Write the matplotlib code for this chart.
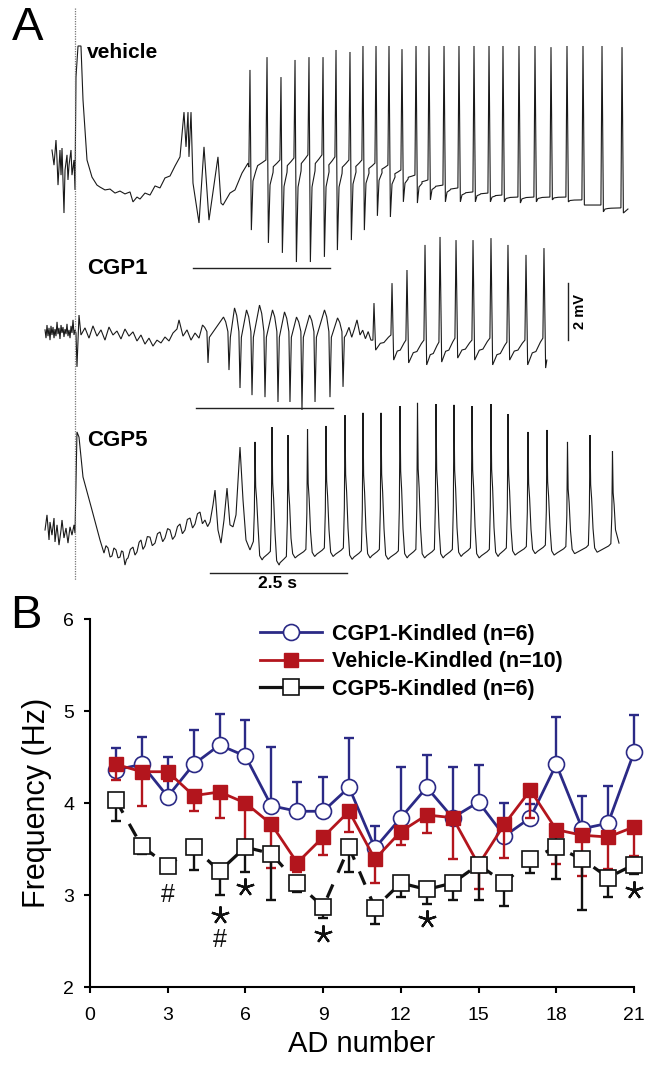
import matplotlib
matplotlib.use("Agg")
import matplotlib.pyplot as plt
from matplotlib.lines import Line2D

plt.rcParams['font.family'] = ['Liberation Sans', 'DejaVu Sans']

# ------------------------------------------------------------------
# Panel B data
# ------------------------------------------------------------------
ad_number = list(range(1, 22))
cgp1_mean = [4.36, 4.42, 4.07, 4.42, 4.63, 4.51, 3.97, 3.91, 3.91, 4.17, 3.51,
             3.84, 4.17, 3.84, 4.01, 3.64, 3.84, 4.42, 3.72, 3.78, 4.55]
cgp1_sem = [0.24, 0.30, 0.43, 0.37, 0.34, 0.39, 0.64, 0.32, 0.37, 0.54, 0.24,
            0.55, 0.35, 0.55, 0.40, 0.36, 0.15, 0.52, 0.36, 0.41, 0.41]
veh_mean = [4.42, 4.34, 4.34, 4.08, 4.12, 4.00, 3.77, 3.35, 3.63, 3.91, 3.39,
            3.69, 3.87, 3.84, 3.33, 3.77, 4.14, 3.71, 3.65, 3.63, 3.74]
veh_sem = [0.17, 0.37, 0.10, 0.17, 0.28, 0.50, 0.48, 0.10, 0.20, 0.22, 0.26,
           0.15, 0.20, 0.45, 0.27, 0.37, 0.30, 0.37, 0.44, 0.35, 0.32]
cgp5_mean = [4.03, 3.53, 3.32, 3.52, 3.26, 3.52, 3.45, 3.13, 2.87, 3.52, 2.86,
             3.13, 3.06, 3.13, 3.33, 3.13, 3.39, 3.52, 3.39, 3.19, 3.33]
cgp5_sem = [0.23, 0.08, 0.07, 0.25, 0.26, 0.27, 0.50, 0.10, 0.12, 0.27, 0.18,
            0.15, 0.16, 0.18, 0.38, 0.25, 0.15, 0.35, 0.55, 0.21, 0.10]
legend_labels = ["CGP1-Kindled (n=6)", "Vehicle-Kindled (n=10)", "CGP5-Kindled (n=6)"]
x_ticks = [0, 3, 6, 9, 12, 15, 18, 21]
y_ticks = [2, 3, 4, 5, 6]
star_x = [5, 6, 9, 13, 21]
star_y = [2.78, 3.09, 2.58, 2.74, 3.05]
hash_x = [3, 5]
hash_y = [3.00, 2.51]

# ------------------------------------------------------------------
# Panel A data (time in s from stimulus, voltage in mV rel. to baseline)
# ------------------------------------------------------------------
veh_pre_t = [-0.420, -0.383, -0.347, -0.328, -0.310, -0.274, -0.255, -0.237, -0.201,
             -0.182, -0.146, -0.128, -0.109, -0.073, -0.055, -0.018, 0.0]
veh_pre_v = [0.35, -0.18, 0.70, 0.0, -0.88, 0.35, -0.53, 0.42, -1.86, -0.35, 0.18,
             -0.70, -0.18, 0.35, -0.53, 0.0, -1.05]
veh_post_t = [0.018, 0.055, 0.109, 0.146, 0.219, 0.310, 0.401, 0.456, 0.547, 0.639,
              0.730, 0.821, 0.912, 1.004, 1.058, 1.131, 1.186, 1.277, 1.369, 1.460,
              1.551, 1.642, 1.734, 1.825, 1.916, 1.989, 2.026, 2.062, 2.080, 2.117,
              2.153, 2.263, 2.354, 2.445, 2.609, 2.664, 2.701, 2.828, 2.920, 3.047, 3.157]
veh_post_v = [2.91, 4.0, 4.0, 2.11, 0.0, -0.60, -0.88, -0.95, -1.05, -1.02,
              -1.16, -1.09, -1.19, -1.12, -1.47, -1.30, -1.37, -1.16, -1.23, -0.91,
              -0.98, -0.63, -0.56, -0.21, 0.11, 1.68, 0.46, 1.68, 0.11, 1.68,
              -0.81, -2.21, 0.46, -2.11, 0.11, -1.51, -1.58, -1.16, -1.05, -0.46, -0.11]
veh_spk_t = [3.193, 3.504, 3.759, 4.015, 4.270, 4.526, 4.763, 5.018, 5.255, 5.493,
             5.730, 5.967, 6.223, 6.460, 6.734, 7.007, 7.281, 7.555, 7.810, 8.102,
             8.394, 8.686, 8.978, 9.270, 9.617, 9.982]
veh_spk_top = [3.16, 3.61, 2.91, 3.51, 3.61, 3.61, 3.86, 3.79, 4.0, 4.0, 4.0, 3.89, 4.0,
               4.0, 4.0, 4.0, 4.0, 4.0, 4.0, 4.0, 4.0, 3.96, 4.0, 4.0, 4.0, 3.96]
veh_spk_trough = [-2.46, -2.91, -3.26, -3.58, -3.58, -3.40, -3.16, -2.81, -2.46, -1.96,
                  -2.0, -1.47, -1.51, -1.40, -1.47, -1.47, -1.47, -1.47, -1.47, -1.51,
                  -1.47, -1.40, -1.47, -1.58, -1.82, -1.86]
veh_spk_base = [-0.25, 0.0, 0.0, 0.07, 0.18, 0.18, 0.11, 0.0, 0.0, -0.11, -0.18, -0.35,
                -0.53, -0.70, -0.88, -0.98, -1.12, -1.16, -1.23, -1.30, -1.30, -1.30,
                -1.30, -1.40, -1.58, -1.68]
veh_end = (10.09, -1.72)

cgp1_pre_t = [-0.547, -0.529, -0.511, -0.493, -0.474, -0.456, -0.438, -0.420, -0.401,
              -0.383, -0.365, -0.347, -0.328, -0.310, -0.292, -0.274, -0.255, -0.237,
              -0.219, -0.201, -0.182, -0.164, -0.146, -0.128, -0.109, -0.091, -0.073,
              -0.055, -0.036, -0.018, 0.0]
cgp1_pre_v = [0.11, -0.18, 0.28, -0.11, 0.18, -0.25, 0.25, -0.07, 0.21, -0.18, 0.14,
              -0.11, 0.39, -0.04, 0.18, -0.21, 0.28, 0.0, 0.21, -0.14, 0.14, -0.04,
              0.32, -0.11, 0.11, -0.18, 0.25, 0.0, 0.46, -0.07, 0.11]
cgp1_post_t = [0.018, 0.036, 0.073, 0.109, 0.182, 0.255, 0.328, 0.401, 0.474, 0.547,
               0.620, 0.693, 0.766, 0.839, 0.912, 0.985, 1.058, 1.131, 1.204, 1.277,
               1.350, 1.423, 1.496, 1.569, 1.642, 1.715, 1.788, 1.861, 1.898, 1.971,
               2.044, 2.117, 2.190, 2.263]
cgp1_post_v = [0.0, -1.19, 0.63, -0.07, 0.18, -0.18, 0.25, -0.11, 0.11, -0.25,
               0.21, -0.07, 0.07, -0.21, 0.14, -0.11, 0.04, -0.28, -0.07, -0.39,
               -0.18, -0.46, -0.25, -0.35, -0.14, -0.28, 0.0, 0.14, 0.46, -0.11,
               0.11, -0.25, 0.0, -0.18]
cgp1_dn_t = [2.427, 2.810, 3.011, 3.230, 3.467, 3.704, 3.923, 4.142, 4.380, 4.653, 4.891]
cgp1_dn_bump = [0.28, 0.56, 0.88, 0.81, 0.98, 0.81, 0.74, 0.56, 0.63, 0.81, 0.53]
cgp1_dn_trough = [-1.05, -1.30, -1.93, -2.18, -2.25, -2.42, -2.42, -2.70, -2.42, -2.25, -1.89]
cgp1_mid_t = [4.945, 5.0, 5.05, 5.10, 5.146, 5.201, 5.25, 5.30, 5.35, 5.40]
cgp1_mid_v = [-0.07, 0.20, -0.15, 0.15, 0.46, -0.07, 0.10, -0.20, 0.05, -0.25]
cgp1_up_t = [5.456, 5.785, 6.058, 6.387, 6.661, 6.953, 7.263, 7.591, 7.901, 8.230, 8.558]
cgp1_up_top = [1.05, 1.75, 2.21, 3.09, 3.37, 3.26, 3.26, 3.33, 3.09, 2.74, 2.98]
cgp1_up_trough = [-0.60, -0.95, -1.05, -1.12, -1.02, -0.88, -0.95, -1.12, -0.95, -1.12, -1.23]
cgp1_up_base = [-0.25, -0.07, -0.25, -0.25, -0.32, -0.18, -0.25, -0.18, -0.32, -0.25, -0.18]
cgp1_end = (8.61, -0.95)

cgp5_pre_t = [-0.547, -0.511, -0.474, -0.456, -0.420, -0.383, -0.365, -0.328, -0.292,
              -0.255, -0.237, -0.201, -0.164, -0.128, -0.091, -0.055, -0.018, 0.0]
cgp5_pre_v = [-0.07, 0.46, -0.42, 0.21, -0.25, 0.35, -0.49, 0.11, -0.60, -0.07, 0.28,
              -0.35, 0.0, -0.53, 0.04, -0.25, 0.11, -0.18]
cgp5_post_t = [0.036, 0.073, 0.146, 0.310, 0.456, 0.529, 0.565, 0.602, 0.640, 0.675,
               0.710, 0.748, 0.785, 0.821, 0.850, 0.876, 0.912, 0.940, 0.967, 1.010,
               1.058, 1.095, 1.131, 1.170, 1.204, 1.240, 1.277, 1.320, 1.369, 1.410,
               1.460, 1.505, 1.551, 1.600, 1.642, 1.690, 1.734, 1.780, 1.825, 1.870,
               1.916, 1.960, 2.007, 2.050, 2.099, 2.145, 2.190, 2.235, 2.281, 2.325,
               2.372, 2.420, 2.464, 2.518, 2.555, 2.609, 2.664, 2.719, 2.774, 2.828,
               2.883, 2.938, 3.011, 3.066, 3.120, 3.193]
cgp5_post_v = [3.37, 3.19, 1.79, 0.63, -0.42, -0.88, -0.62, -0.70, -1.02, -0.98,
               -0.70, -0.77, -1.05, -1.02, -0.80, -0.84, -1.30, -1.10, -1.05, -0.75,
               -0.67, -0.95, -0.84, -0.50, -0.42, -0.75, -0.63, -0.30, -0.32, -0.62,
               -0.53, -0.20, -0.14, -0.48, -0.35, -0.02, -0.07, -0.40, -0.28, 0.05,
               0.14, -0.20, -0.07, 0.30, 0.35, 0.00, 0.14, 0.50, 0.56, 0.15,
               0.28, 0.05, 0.21, 0.81, 1.33, -0.07, -0.53, 0.28, 1.40, 0.11,
               0.04, 0.46, 2.84, 0.98, -0.42, -0.77]
cgp5_spk_t = [3.285, 3.595, 3.887, 4.243, 4.580, 4.927, 5.255, 5.584, 5.931, 6.250,
              6.588, 6.916, 7.245, 7.591, 7.901, 8.266, 8.613, 8.987, 9.398, 9.808]
cgp5_spk_top = [3.02, 3.54, 3.26, 3.47, 3.58, 3.96, 4.04, 4.04, 4.28, 4.39, 4.35, 4.32,
                4.28, 4.35, 4.00, 3.37, 3.44, 3.02, 3.26, 2.70]
cgp5_spk_trough = [-1.12, -1.30, -1.05, -1.0, -1.0, -1.1, -1.05, -1.1, -1.05, -1.05,
                   -1.05, -1.0, -1.05, -1.0, -0.95, -0.9, -0.95, -0.9, -0.85, -0.85]
cgp5_end = (9.927, -0.53)

trace_labels = ["vehicle", "CGP1", "CGP5"]
time_bar_s = 2.5
volt_bar_mv = 2.0

# ------------------------------------------------------------------
# layout helpers (pixel geometry of the 648 x 1071 figure)
# ------------------------------------------------------------------
W, H = 648, 1071
PX_PER_S = 54.8
PX_PER_MV = 28.5
STIM_X = 75


def fx(x):
    return x / W


def fy(y):
    return 1 - y / H


def mv_of_px(y):
    return -y / PX_PER_MV


def s_of_px(x):
    return (x - STIM_X) / PX_PER_S


# ------------------------------------------------------------------
# waveform assembly
# ------------------------------------------------------------------
def vehicle_trace():
    t = list(veh_pre_t) + list(veh_post_t)
    v = list(veh_pre_v) + list(veh_post_v)
    n = len(veh_spk_t)
    for i in range(n):
        ts, b, top, tr = veh_spk_t[i], veh_spk_base[i], veh_spk_top[i], veh_spk_trough[i]
        bn = veh_spk_base[i + 1] if i + 1 < n else veh_end[1]
        t += [ts - 0.02, ts, ts + 0.025]
        v += [b, top, tr]
        if i + 1 < n:
            gap = veh_spk_t[i + 1] - ts
            t += [ts + 0.055, ts + 0.11, ts + 0.45 * gap, ts + 0.7 * gap]
            v += [tr + 0.7 * (bn - tr), tr + 0.85 * (bn - tr),
                  tr + 0.92 * (bn - tr), tr + 0.96 * (bn - tr)]
    t.append(veh_end[0])
    v.append(veh_end[1])
    return t, v


def cgp1_trace():
    t = list(cgp1_pre_t) + list(cgp1_post_t)
    v = list(cgp1_pre_v) + list(cgp1_post_v)
    for ts, bump, tr in zip(cgp1_dn_t, cgp1_dn_bump, cgp1_dn_trough):
        t += [ts - 0.10, ts - 0.06, ts - 0.02, ts, ts + 0.025]
        v += [bump, bump * 0.7, 0.05, tr, -0.15]
    t += cgp1_mid_t
    v += cgp1_mid_v
    n = len(cgp1_up_t)
    for i in range(n):
        ts = cgp1_up_t[i]
        t += [ts - 0.02, ts, ts + 0.03]
        v += [cgp1_up_base[i], cgp1_up_top[i], cgp1_up_trough[i]]
        if i + 1 < n:
            gap = cgp1_up_t[i + 1] - ts
            bn = cgp1_up_base[i + 1]
            tr = cgp1_up_trough[i]
            t += [ts + 0.35 * gap, ts + 0.55 * gap, ts + 0.8 * gap]
            v += [tr + 0.45 * (bn - tr), tr + 0.5 * (bn - tr), tr + 0.85 * (bn - tr)]
    t.append(cgp1_end[0])
    v.append(cgp1_end[1])
    return t, v


def cgp5_trace():
    t = list(cgp5_pre_t) + list(cgp5_post_t)
    v = list(cgp5_pre_v) + list(cgp5_post_v)
    n = len(cgp5_spk_t)
    prev_tr = cgp5_post_v[-1]
    for i in range(n):
        ts, top, tr = cgp5_spk_t[i], cgp5_spk_top[i], cgp5_spk_trough[i]
        b = prev_tr + 0.3
        h = top - b
        t += [ts - 0.03, ts - 0.012, ts, ts + 0.012, ts + 0.03, ts + 0.055]
        v += [b, b + 0.3 * h, top, b + 0.55 * h, b + 0.42 * h, b + 0.15 * h]
        if i + 1 < n:
            gap = cgp5_spk_t[i + 1] - ts
            t += [ts + 0.085, ts + 0.13, ts + 0.5 * gap, ts + gap - 0.07]
            v += [tr + 0.15, tr, tr + 0.08, tr + 0.22]
        prev_tr = tr
    t.append(cgp5_end[0])
    v.append(cgp5_end[1])
    return t, v


# ------------------------------------------------------------------
fig = plt.figure(figsize=(W / 100, H / 100), dpi=100)

# ---------------- Panel A ----------------
axA = fig.add_axes([0, 0, 1, 1])
axA.set_xlim(s_of_px(0), s_of_px(W))
axA.set_ylim(mv_of_px(H), 0)
axA.axis('off')

trace_offsets = [mv_of_px(160), mv_of_px(333), mv_of_px(528)]
trace_color = '#1a1a1a'
for (tt, vv), off in zip([vehicle_trace(), cgp1_trace(), cgp5_trace()], trace_offsets):
    axA.plot(tt, [x + off for x in vv], color=trace_color, lw=0.8, solid_joinstyle='miter')

# stimulus marker (dotted)
axA.plot([0, 0], [mv_of_px(8), mv_of_px(580)], color='#777777', lw=0.9, ls=(0, (1, 1)))

# time bars
for x0, y0 in [(193, 268), (196, 408), (210, 573)]:
    axA.plot([s_of_px(x0), s_of_px(x0) + time_bar_s], [mv_of_px(y0)] * 2,
             color='#222222', lw=1.0)
# voltage bar
axA.plot([s_of_px(568)] * 2, [mv_of_px(283), mv_of_px(283) - volt_bar_mv], color='#222222', lw=1.0)

fig.text(fx(12), fy(28), "A", fontsize=34, ha='left', va='center')
fig.text(fx(87), fy(53), trace_labels[0], fontsize=15, fontweight='bold', ha='left', va='center')
fig.text(fx(87), fy(268), trace_labels[1], fontsize=16, fontweight='bold', ha='left', va='center')
fig.text(fx(87), fy(440), trace_labels[2], fontsize=16, fontweight='bold', ha='left', va='center')
fig.text(fx(580), fy(311), "2 mV", fontsize=10.5, fontweight='bold', rotation=90,
         ha='center', va='center')
fig.text(fx(278), fy(584), "2.5 s", fontsize=12.5, fontweight='bold', ha='center', va='center')

# ---------------- Panel B ----------------
axB = fig.add_axes([fx(90), fy(987), (634 - 90) / W, (987 - 619) / H])
axB.set_facecolor('none')
blue = '#2B2A86'
red = '#B3151D'
black = '#111111'
zero = [0] * len(ad_number)

axB.errorbar(ad_number, cgp1_mean, yerr=[zero, cgp1_sem], fmt='none', ecolor=blue,
             elinewidth=1.7, capsize=3.5, capthick=1.7, zorder=2, clip_on=False)
axB.plot(ad_number, cgp1_mean, color=blue, lw=2.0, marker='o', ms=11.5,
         mfc='white', mec=blue, mew=1.2, zorder=3, clip_on=False)

axB.errorbar(ad_number, veh_mean, yerr=[veh_sem, zero], fmt='none', ecolor=red,
             elinewidth=1.7, capsize=3.5, capthick=1.7, zorder=4, clip_on=False)
axB.plot(ad_number, veh_mean, color=red, lw=2.0, marker='s', ms=10.5,
         mfc=red, mec=red, mew=1.0, zorder=5, clip_on=False)

axB.errorbar(ad_number, cgp5_mean, yerr=[cgp5_sem, zero], fmt='none', ecolor=black,
             elinewidth=1.7, capsize=3.5, capthick=1.7, zorder=6, clip_on=False)
axB.plot(ad_number, cgp5_mean, color=black, lw=2.3, ls=(0, (4.5, 4)), marker='s', ms=11,
         mfc='white', mec=black, mew=1.2, zorder=7, clip_on=False)

axB.plot(star_x, star_y, ls='none', marker=(5, 2, 0), ms=13, mew=1.6, color=black,
         zorder=8, clip_on=False)
for hx, hy in zip(hash_x, hash_y):
    axB.text(hx, hy, "#", fontsize=18, ha='center', va='center', color=black, zorder=8)

axB.set_xlim(0, 21)
axB.set_ylim(2, 6)
axB.set_xticks(x_ticks)
axB.set_yticks(y_ticks)
for s in ['top', 'right']:
    axB.spines[s].set_visible(False)
for s in ['left', 'bottom']:
    axB.spines[s].set_linewidth(1.5)
axB.tick_params(axis='both', direction='out', length=4.5, width=1.5, labelsize=14)
axB.tick_params(axis='x', pad=10)
axB.tick_params(axis='y', pad=7)
axB.set_xlabel("AD number", fontsize=21, labelpad=4)
axB.set_ylabel("Frequency (Hz)", fontsize=22, labelpad=8)

handles = [
    Line2D([], [], color=blue, lw=2.0, marker='o', ms=11.5, mfc='white', mec=blue, mew=1.2),
    Line2D([], [], color=red, lw=2.0, marker='s', ms=10.5, mfc=red, mec=red),
    Line2D([], [], color=black, lw=2.3, marker='s', ms=11, mfc='white', mec=black, mew=1.2),
]
axB.legend(handles, legend_labels, loc='upper left', bbox_to_anchor=(fx(260), fy(624)),
           bbox_transform=fig.transFigure, frameon=False, handlelength=2.9,
           handletextpad=0.45, labelspacing=0.3, borderpad=0, borderaxespad=0,
           prop=dict(weight='bold', size=15.5))

fig.text(fx(10), fy(616), "B", fontsize=34, ha='left', va='center')

fig.savefig("out.png", dpi=100)
